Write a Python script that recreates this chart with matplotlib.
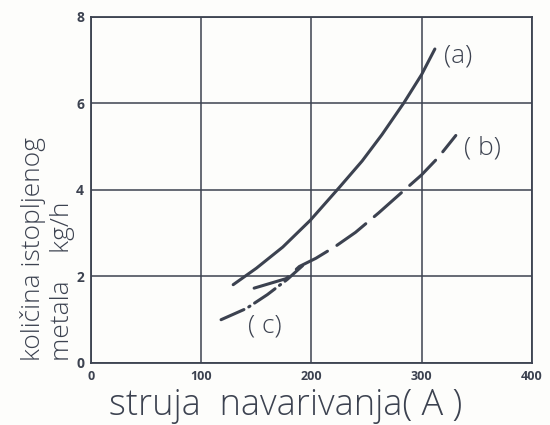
import matplotlib
matplotlib.use("Agg")
import matplotlib.pyplot as plt

plt.rcParams.update({
    "font.family": ["Open Sans", "DejaVu Sans"],
    "lines.scale_dashes": False,
})

INK = "#3c4250"

# curve (a): solid
a_x = [129, 150, 174, 199, 225, 246, 264, 284, 300, 312]
a_y = [1.81, 2.19, 2.68, 3.30, 4.05, 4.67, 5.28, 6.02, 6.67, 7.26]
# curve (b): long dashes
b_x = [148, 177, 189, 204, 222, 240, 261, 280, 300, 315, 331]
b_y = [1.73, 1.95, 2.23, 2.42, 2.70, 3.02, 3.47, 3.90, 4.35, 4.75, 5.26]
# curve (c): dash-dot
c_x = [118, 141, 160, 178, 192]
c_y = [1.00, 1.26, 1.58, 1.93, 2.25]

x_ticks = [0, 100, 200, 300, 400]
y_ticks = [0, 2, 4, 6, 8]

fig = plt.figure(figsize=(5.5, 4.25), dpi=100, facecolor="#fdfdfb")
ax = fig.add_axes([0.1655, 0.146, 0.8015, 0.814])
ax.set_facecolor("#fdfdfb")

ax.plot(a_x, a_y, color=INK, lw=2.2, solid_capstyle="round")
ax.plot(b_x, b_y, color=INK, lw=2.2, dashes=(26, 8), dash_capstyle="round")
ax.plot(c_x, c_y, color=INK, lw=2.2, dashes=(18, 4, 1, 4), dash_capstyle="round")

ax.text(333, 7.09, "(a)", fontsize=19, color=INK, ha="center", va="center", fontweight="light")
ax.text(355, 4.98, "( b)", fontsize=19, color=INK, ha="center", va="center", fontweight="light")
ax.text(158, 0.86, "( c)", fontsize=19, color=INK, ha="center", va="center", fontweight="light")

ax.set_xlim(0, 400)
ax.set_ylim(0, 8)
ax.set_xticks(x_ticks)
ax.set_yticks(y_ticks)
ax.set_xticklabels([str(t) for t in x_ticks], fontsize=9, fontweight="bold", color=INK)
ax.set_yticklabels([str(t) for t in y_ticks], fontsize=10, fontweight="bold", color=INK)
ax.tick_params(length=0, pad=5)
ax.grid(True, color=INK, lw=1.1)
for s in ax.spines.values():
    s.set_color(INK)
    s.set_linewidth(1.3)

fig.text(0.52, 0.047, "struja  navarivanja( A )", fontsize=26, color=INK,
         ha="center", va="center", fontweight="light")
fig.text(0.06, 0.15, "količina istopljenog", fontsize=19, color=INK, rotation=90,
         ha="center", va="bottom", fontweight="light")
fig.text(0.114, 0.15, "metala    kg/h", fontsize=19, color=INK, rotation=90,
         ha="center", va="bottom", fontweight="light")

fig.savefig("out.png", dpi=100, facecolor=fig.get_facecolor())
